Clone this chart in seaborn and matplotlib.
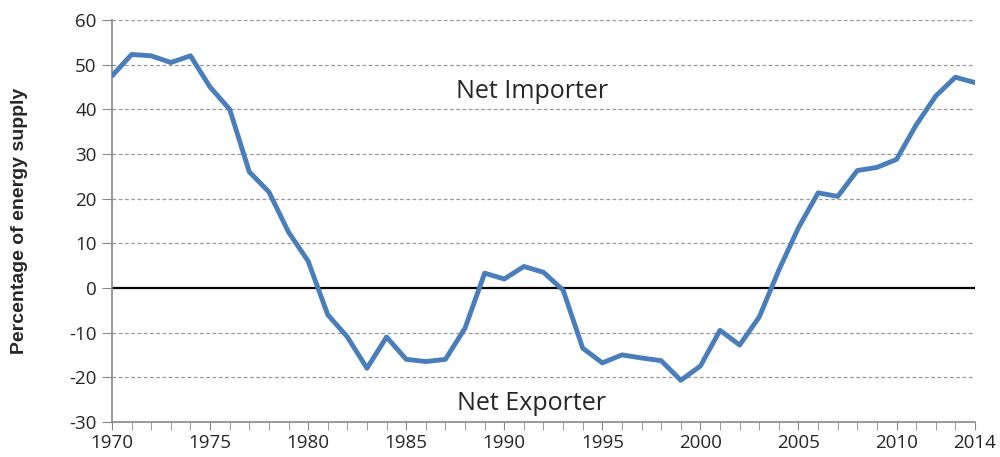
import numpy as np
import pandas as pd
import matplotlib
matplotlib.use("Agg")
import matplotlib.pyplot as plt
import seaborn as sns

years = list(range(1970, 2015))
pct_supply = [47.5, 52.3, 52.0, 50.5, 52.0, 45.0, 40.0, 26.0, 21.5, 12.5,
              6.0, -6.0, -11.0, -18.0, -11.0, -16.0, -16.5, -16.0, -9.0, 3.3,
              2.0, 4.8, 3.5, -0.5, -13.5, -16.8, -15.0, -15.7, -16.3, -20.7,
              -17.5, -9.5, -12.8, -6.5, 4.0, 13.5, 21.3, 20.5, 26.3, 27.0,
              28.8, 36.5, 43.0, 47.2, 46.0]
x_ticks = [1970, 1975, 1980, 1985, 1990, 1995, 2000, 2005, 2010, 2014]
y_ticks = list(range(-30, 61, 10))

df = pd.DataFrame({"year": years, "pct": pct_supply})

sns.set_style("white")
plt.rcParams["font.family"] = ["Open Sans", "DejaVu Sans"]
plt.rcParams["axes.unicode_minus"] = False

fig = plt.figure(figsize=(10, 4.57), dpi=100)
ax = fig.add_axes([0.112, 0.077, 0.863, 0.879])

# dashed horizontal grid, solid zero line
for y in y_ticks[1:]:
    if y != 0:
        ax.axhline(y, color="#9a9a9a", lw=0.9, ls=(0, (3, 2)), zorder=0)
ax.axhline(0, color="black", lw=1.6, zorder=1)

sns.lineplot(data=df, x="year", y="pct", ax=ax, color="#4A7EBB", lw=3.5, zorder=3)

ax.set_xlim(1970, 2014)
ax.set_ylim(-30, 60)
ax.set_xticks(x_ticks)
ax.set_xticks(years, minor=True)
ax.set_yticks(y_ticks)
ax.tick_params(axis="x", which="both", direction="out", length=6, color="#888888",
               labelsize=13.5, pad=3, bottom=True)
ax.tick_params(axis="y", direction="out", length=7, color="#888888", left=True,
               labelsize=13.5, pad=4)
for s in ["top", "right"]:
    ax.spines[s].set_visible(False)
for s in ["left", "bottom"]:
    ax.spines[s].set_color("#888888")
    ax.spines[s].set_linewidth(1.2)

ax.set_xlabel("")
ax.set_ylabel("Percentage of energy supply", fontsize=14, fontweight="bold",
              family=["Liberation Sans", "DejaVu Sans"])
ax.yaxis.set_label_coords(-0.097, 0.5)

ax.text(1991.4, 44, "Net Importer", fontsize=18, ha="center", va="center")
ax.text(1991.4, -26, "Net Exporter", fontsize=18, ha="center", va="center")

fig.savefig("out.png", dpi=100)
